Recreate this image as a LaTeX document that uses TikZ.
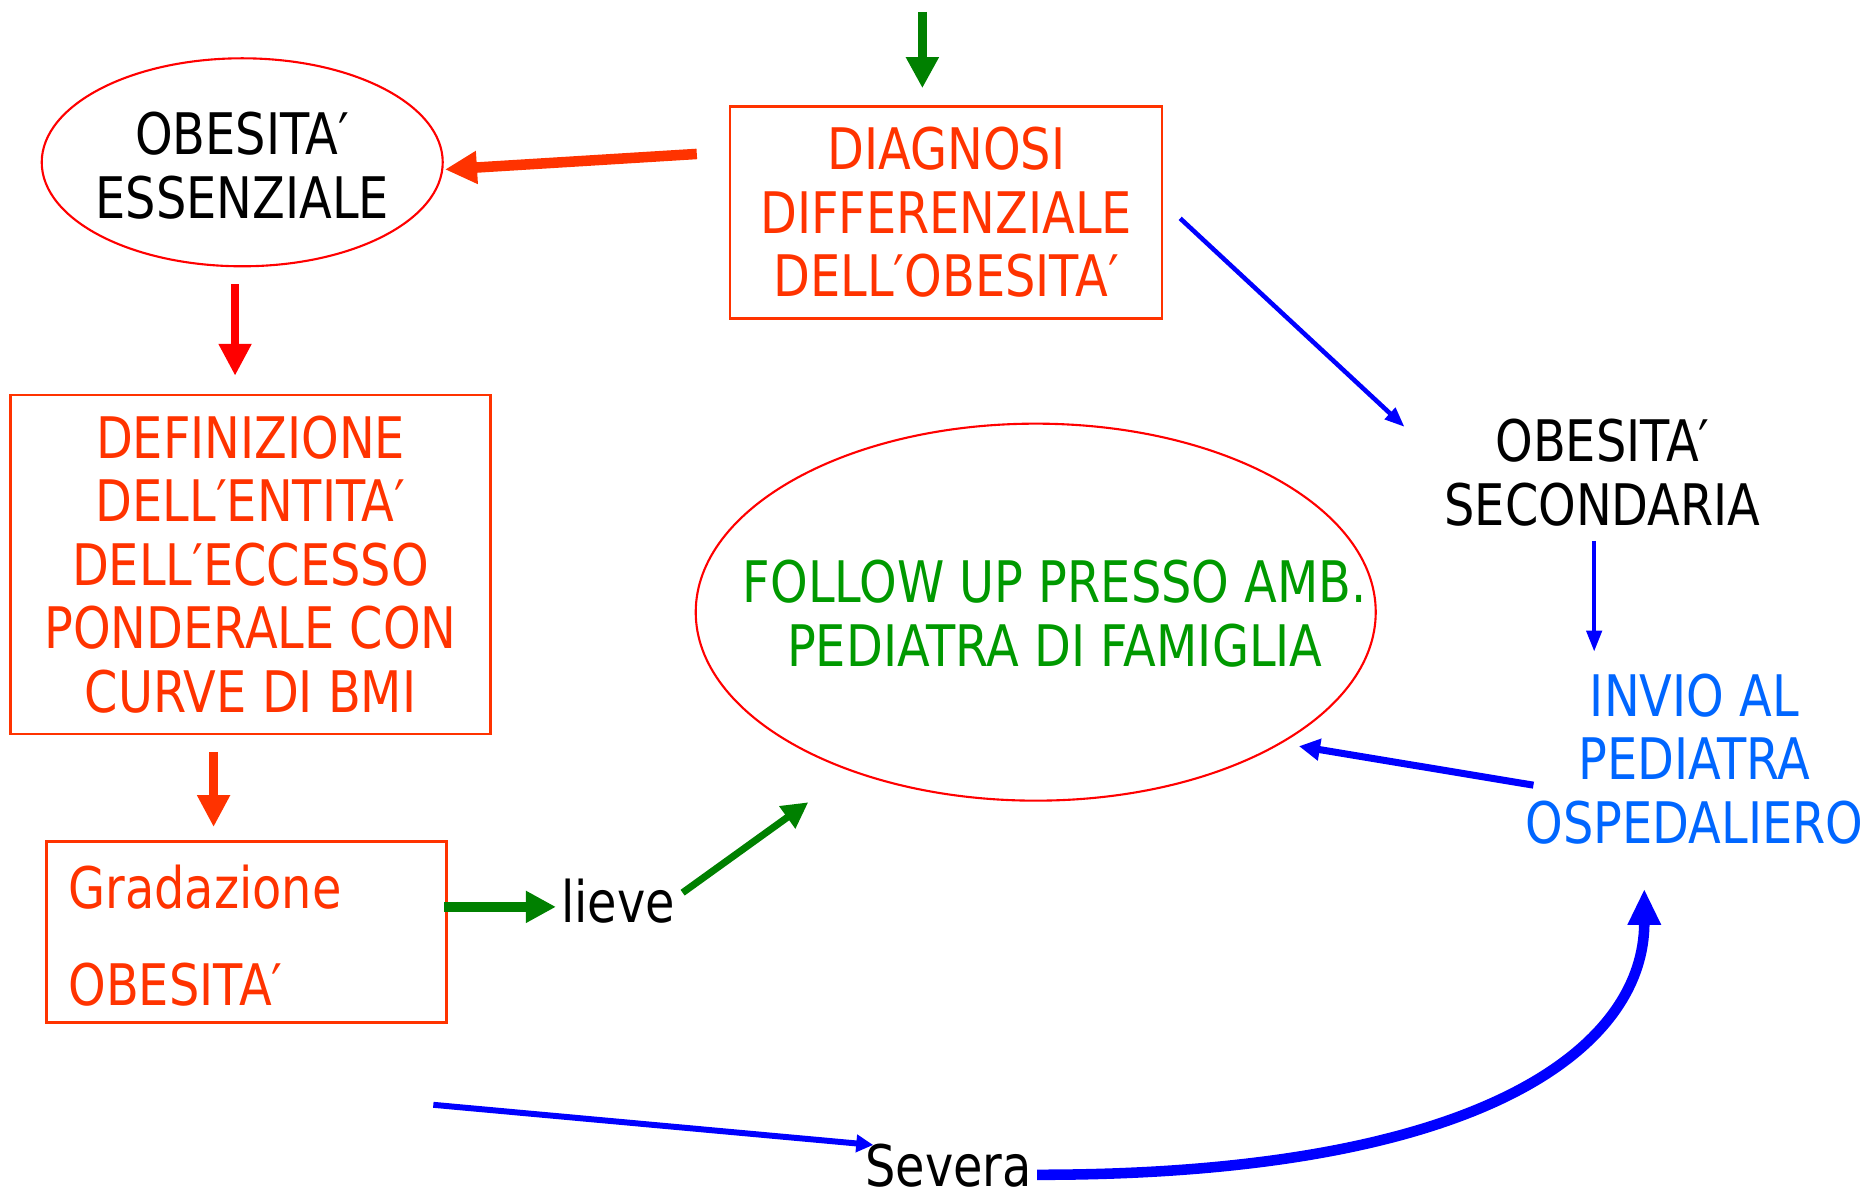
\documentclass[tikz,border=0pt]{standalone}
\usepackage{fontspec}
\setmainfont[FakeStretch=0.835]{DejaVu Sans}
\usetikzlibrary{arrows.meta, shapes.geometric}
\definecolor{orred}{RGB}{255,51,0}
\definecolor{fgreen}{RGB}{0,153,0}
\definecolor{agreen}{RGB}{0,128,0}
\definecolor{ablue}{RGB}{0,0,255}
\definecolor{lblue}{RGB}{0,102,255}

\begin{document}
\begin{tikzpicture}[
  x=0.01193cm, y=-0.01193cm,
  font=\fontsize{16.3}{18.1}\selectfont,
  redbox/.style={rectangle, draw=orred, line width=0.7pt, text=orred, align=center},
  oval/.style={ellipse, draw=red, line width=0.6pt, inner sep=0pt},
  txt/.style={align=center},
  greenarr/.style={draw=agreen, line width=2.7pt, -{Triangle[length=0.31cm, width=0.31cm]}, color=agreen},
  redarr/.style={line width=2.4pt, -{Triangle[length=0.32cm, width=0.31cm]}},
  bluearr/.style={color=ablue, line width=1.3pt, -{Triangle[length=0.2cm, width=0.15cm]}}
]
  \useasboundingbox (0,0) rectangle (1568,1002);

  % top row
  \node[redbox, minimum width=4.32cm, minimum height=2.12cm] (diag) at (793,178)
    {DIAGNOSI\\DIFFERENZIALE\\DELL′OBESITA′};
  \node[oval, minimum width=4.01cm, minimum height=2.08cm] (ess) at (203,136) {};
  \node[txt] (esstxt) at (203,139) {OBESITA′\\ESSENZIALE};
  \coordinate (start) at (773,10);

  % left column
  \node[redbox, minimum width=4.80cm, minimum height=3.39cm] (defin) at (210,473)
    {DEFINIZIONE\\DELL′ENTITA′\\DELL′ECCESSO\\PONDERALE CON\\CURVE DI BMI};
  \node[rectangle, draw=orred, line width=0.7pt, minimum width=4.00cm, minimum height=1.81cm] (grad) at (206.5,781) {};
  \node[txt, text=orred, align=left, anchor=west] (gradtxt) at (47,784) {Gradazione\\[9.7pt]OBESITA′};
  \node[anchor=base] (lieve) at (518,773) {lieve};
  \node[anchor=base] (severa) at (795,994) {Severa};

  % middle and right
  \node[oval, minimum width=6.80cm, minimum height=3.77cm] (follow) at (868,513) {};
  \node[txt, text=fgreen] (followtxt) at (884,514) {FOLLOW UP PRESSO AMB.\\PEDIATRA DI FAMIGLIA};
  \node[txt] (sec) at (1343,396) {OBESITA′\\SECONDARIA};
  \node[txt, text=lblue] (invio) at (1420,636) {INVIO AL\\PEDIATRA\\OSPEDALIERO};

  % arrows
  \draw[greenarr] (start) -- (start |- diag.north) [shorten >=0.17cm];
  \draw[redarr, orred, line width=3pt] ([shift={(-27,-49)}]diag.west) -- ([shift={(1,6)}]ess.east);
  \draw[redarr, red] ([shift={(-6,14)}]ess.south) -- ([shift={(-13,-15)}]defin.north);
  \draw[redarr, orred] ([shift={(-31,14)}]defin.south) -- ([shift={(-27.5,-11)}]grad.north);
  \draw[greenarr, line width=3pt, -{Triangle[length=0.3cm, width=0.3cm]}] ([shift={(-3,-21)}]grad.east) -- ([shift={(6,0)}]lieve.west |- 0,760);
  \draw[greenarr, line width=2pt, -{Triangle[length=0.26cm, width=0.26cm]}] ([shift={(-4,-7)}]lieve.east) -- ([shift={(11.5,47)}]follow.south west);
  \draw[bluearr] ([shift={(14,5)}]diag.east) -- ([shift={(-23,17)}]sec.north west);
  \draw[bluearr, line width=1.2pt, -{Triangle[length=0.21cm, width=0.15cm]}] ([shift={(-7,2)}]sec.south) -- ([shift={(-84,-8)}]invio.north);
  \draw[bluearr, line width=2pt, -{Triangle[length=0.21cm, width=0.21cm]}] ([shift={(17,22)}]invio.west) -- ([shift={(18.5,0)}]follow.south east);
  \draw[bluearr, line width=1.7pt, -{Triangle[length=0.17cm, width=0.17cm]}] ([shift={(-12,68)}]grad.south east) -- ([shift={(17,-17)}]severa.west);
  \draw[bluearr, line width=3pt, -{Triangle[length=0.36cm, width=0.31cm]}] ([shift={(-6,8)}]severa.east)
    .. controls +(380,0) and +(0,130) .. ([shift={(-42,27)}]invio.south);
\end{tikzpicture}
\end{document}
